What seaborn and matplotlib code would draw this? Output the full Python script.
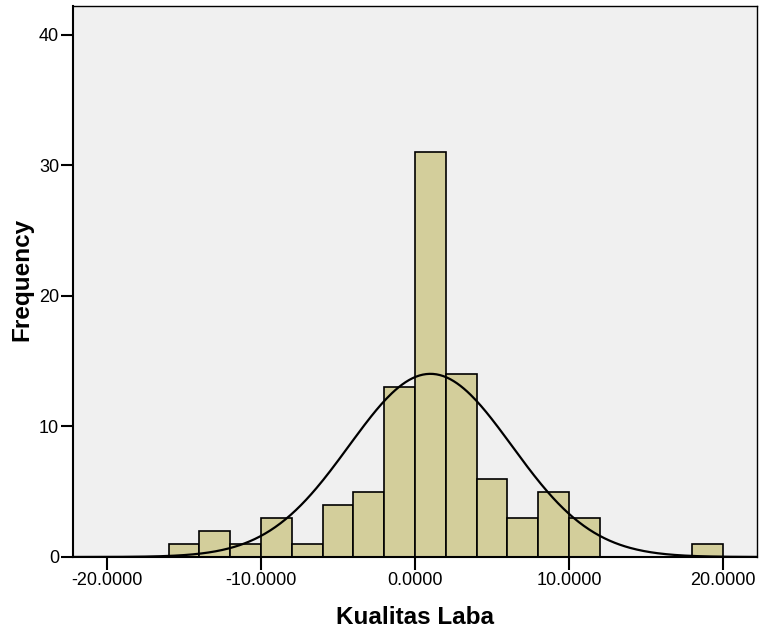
import numpy as np
import pandas as pd
import seaborn as sns
import matplotlib.pyplot as plt

# Histogram of Kualitas Laba (bin width 2)
bin_left = [-16, -14, -12, -10, -8, -6, -4, -2, 0, 2, 4, 6, 8, 10, 12, 14, 16, 18]
counts = [1, 2, 1, 3, 1, 4, 5, 13, 31, 14, 6, 3, 5, 3, 0, 0, 0, 1]
x_ticks = [-20, -10, 0, 10, 20]
y_ticks = [0, 10, 20, 30, 40]

# fitted normal curve parameters
mean = 1.0
std_dev = 5.29
bin_width = 2

sns.set_style('white')
plt.rcParams['font.family'] = ['Liberation Sans', 'DejaVu Sans']
plt.rcParams['text.color'] = 'black'
plt.rcParams['axes.labelcolor'] = 'black'
plt.rcParams['xtick.color'] = 'black'
plt.rcParams['ytick.color'] = 'black'

df = pd.DataFrame({'centre': np.array(bin_left) + bin_width / 2, 'count': counts})
edges = list(bin_left) + [bin_left[-1] + bin_width]

fig = plt.figure(figsize=(7.59, 6.32), dpi=100)
ax = fig.add_axes([0.0962, 0.1187, 0.9012, 0.8718])
ax.set_facecolor('#F0F0F0')

sns.histplot(data=df, x='centre', weights='count', bins=edges, ax=ax,
             color='#D3CE9B', alpha=1, edgecolor='black', linewidth=1.2)

xs = np.linspace(-22.2, 22.2, 400)
n = sum(counts)
curve = pd.DataFrame({
    'x': xs,
    'y': n * bin_width / (std_dev * np.sqrt(2 * np.pi)) * np.exp(-0.5 * ((xs - mean) / std_dev) ** 2),
})
sns.lineplot(data=curve, x='x', y='y', ax=ax, color='black', linewidth=1.6)

ax.set_xlim(-22.2, 22.2)
ax.set_ylim(0, 42.2)
ax.set_xticks(x_ticks)
ax.set_xticklabels([f'{t:.4f}' for t in x_ticks])
ax.set_yticks(y_ticks)
ax.tick_params(axis='both', direction='out', length=9, width=1.5, colors='black',
               labelsize=13, bottom=True, left=True)
ax.tick_params(axis='y', pad=1)
ax.tick_params(axis='x', pad=2)
for side in ['top', 'right', 'bottom', 'left']:
    ax.spines[side].set_color('black')
    ax.spines[side].set_linewidth(1.5)
ax.spines['top'].set_linewidth(1.0)
ax.spines['right'].set_linewidth(1.0)

ax.set_xlabel('Kualitas Laba', fontsize=17.5, fontweight='bold', va='center')
ax.set_ylabel('Frequency', fontsize=17.5, fontweight='bold', va='center', ha='center')
ax.xaxis.set_label_coords(0.5, -0.109)
ax.yaxis.set_label_coords(-0.0746, 0.503)

plt.savefig('out.png', dpi=100)
